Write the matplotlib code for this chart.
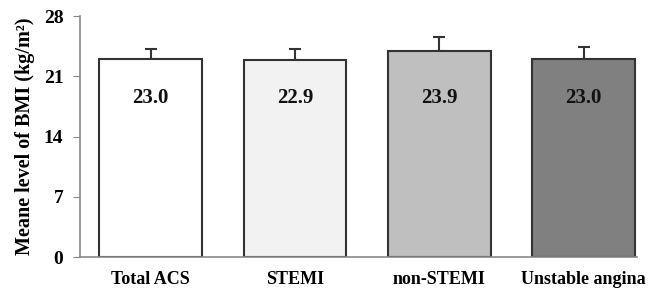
import matplotlib
matplotlib.use("Agg")
import matplotlib.pyplot as plt

categories = ["Total ACS", "STEMI", "non-STEMI", "Unstable angina"]
means = [23.0, 22.9, 23.9, 23.0]
errors = [1.2, 1.3, 1.7, 1.4]
labels = ["23.0", "22.9", "23.9", "23.0"]
colors = ["#ffffff", "#f2f2f2", "#bfbfbf", "#808080"]
yticks = [0, 7, 14, 21, 28]

plt.rcParams['font.family'] = ['Liberation Serif', 'DejaVu Serif']
plt.rcParams['font.weight'] = 'bold'

fig = plt.figure(figsize=(6.48, 2.88), dpi=100)
ax = fig.add_axes([80/648, 1-257/288, (637-80)/648, (257-16)/288])

x = list(range(len(categories)))
ax.bar(x, means, width=0.71, color=colors, edgecolor="#333333", linewidth=1.5, zorder=2)
ax.errorbar(x, means, yerr=[[0]*4, errors], fmt="none", ecolor="#333333",
            elinewidth=1.5, capsize=4, capthick=1.5, zorder=1)
for xi, lab in zip(x, labels):
    ax.text(xi, 18.5, lab, ha="center", va="center", fontsize=15, fontweight="bold", color="#111111")

ax.set_xlim(-0.49, 3.37)
ax.set_ylim(0, 28)
ax.set_yticks(yticks)
ax.set_xticks(x)
ax.set_xticklabels(categories, fontsize=13, fontweight="bold")
ax.tick_params(axis="x", length=0, pad=10)
ax.tick_params(axis="y", length=5, color="#888888", labelsize=14, pad=7)
for s in ["top", "right"]:
    ax.spines[s].set_visible(False)
for s in ["left", "bottom"]:
    ax.spines[s].set_color("#888888")
    ax.spines[s].set_linewidth(1.2)
ax.set_ylabel("Meane level of BMI (kg/m²)", fontsize=14.5, fontweight="bold", labelpad=6)

fig.savefig("out.png", dpi=100)
